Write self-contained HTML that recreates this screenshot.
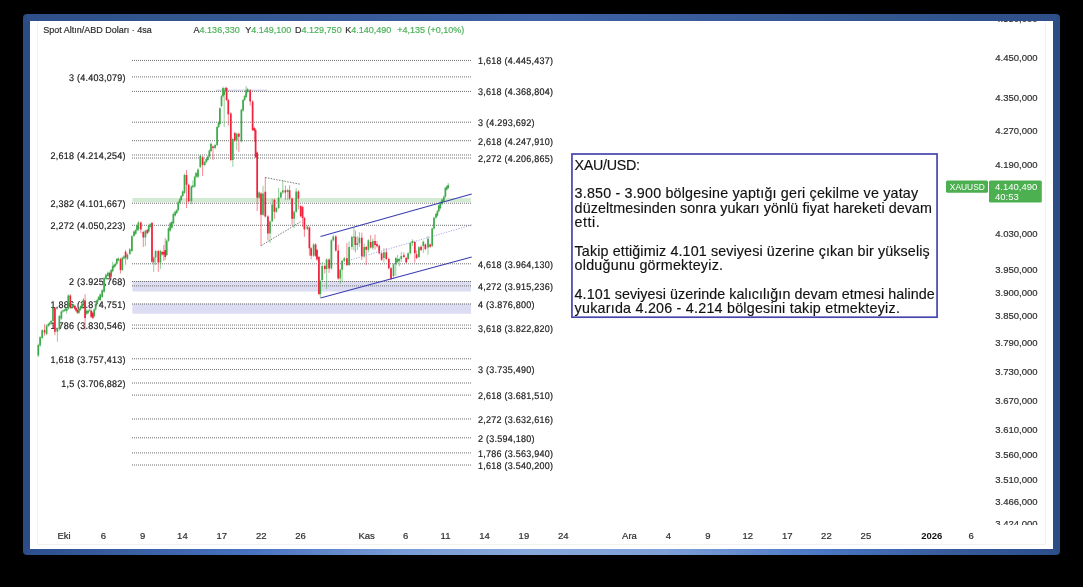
<!DOCTYPE html>
<html><head><meta charset="utf-8"><title>XAUUSD</title>
<style>
html,body{margin:0;padding:0;background:#000;width:1083px;height:587px;overflow:hidden}
svg{position:absolute;left:0;top:0;display:block;will-change:transform}
svg text{font-family:"Liberation Sans", sans-serif}
</style></head><body>
<svg width="1083" height="587" viewBox="0 0 1083 587">
<defs>
<linearGradient id="gb" x1="0" x2="1" y1="0" y2="0">
 <stop offset="0" stop-color="#2d4f8c"/>
 <stop offset="0.22" stop-color="#4873c0"/>
 <stop offset="0.36" stop-color="#789bd5"/>
 <stop offset="0.49" stop-color="#89a8dc"/>
 <stop offset="0.62" stop-color="#7fa0d8"/>
 <stop offset="0.77" stop-color="#4a78c4"/>
 <stop offset="0.90" stop-color="#375b9b"/>
 <stop offset="1" stop-color="#2d4f8c"/>
</linearGradient>
<linearGradient id="gt" x1="0" x2="1" y1="0" y2="0">
 <stop offset="0" stop-color="#2e4f8a"/>
 <stop offset="0.15" stop-color="#33568f"/>
 <stop offset="0.5" stop-color="#3d62a6"/>
 <stop offset="0.82" stop-color="#33568f"/>
 <stop offset="1" stop-color="#2e4f8a"/>
</linearGradient>
<clipPath id="pane"><rect x="37" y="21" width="1009" height="504"/></clipPath>
</defs>
<rect x="23" y="14" width="1037" height="541" rx="4" ry="4" fill="#2c4c86"/>
<rect x="27" y="14" width="1029" height="7" fill="url(#gt)"/>
<rect x="27" y="548.5" width="1029" height="6.5" fill="url(#gb)"/>
<rect x="30" y="21" width="1023" height="528" fill="#fff"/>
<path d="M37.5 21V544.5H1045.5V21" fill="none" stroke="#f2f2f2" stroke-width="1"/>
<text x="43.2" y="33.3" font-size="9" fill="#2f2f2f" stroke="#2f2f2f" stroke-width="0.2">Spot Altın/ABD Doları · 4sa</text>
<text x="193.6" y="33.3" font-size="9" fill="#2f2f2f" stroke="#2f2f2f" stroke-width="0.2">A<tspan fill="#4db35a" stroke="#4db35a">4.136,330</tspan></text>
<text x="245.2" y="33.3" font-size="9" fill="#2f2f2f" stroke="#2f2f2f" stroke-width="0.2">Y<tspan fill="#4db35a" stroke="#4db35a">4.149,100</tspan></text>
<text x="295.1" y="33.3" font-size="9" fill="#2f2f2f" stroke="#2f2f2f" stroke-width="0.2">D<tspan fill="#4db35a" stroke="#4db35a">4.129,750</tspan></text>
<text x="345.2" y="33.3" font-size="9" fill="#2f2f2f" stroke="#2f2f2f" stroke-width="0.2">K<tspan fill="#4db35a" stroke="#4db35a">4.140,490</tspan></text>
<text x="397.2" y="33.3" font-size="9" fill="#4db35a" stroke="#4db35a" stroke-width="0.2">+4,135 (+0,10%)</text>
<rect x="132.4" y="198" width="338.6" height="4.2" fill="#d3ebd3"/>
<rect x="132.4" y="281" width="338.6" height="10.5" fill="#dcdcf2"/>
<rect x="132.4" y="303.6" width="338.6" height="10.1" fill="#dcdcf2"/>
<rect x="216" y="89.6" width="51" height="1.6" fill="#d8d8f0"/>
<path d="M132 60.4H471M132 76.9H471M132 91.4H471M132 122.2H471M132 140.7H471M132 155.0H471M132 158.0H471M132 203.2H471M132 225.3H471M132 263.8H471M132 281.5H471M132 285.9H471M132 304.0H471M132 325.1H471M132 328.3H471M132 358.8H471M132 369.6H471M132 383.0H471M132 395.1H471M132 419.0H471M132 437.8H471M132 452.9H471M132 465.0H471" stroke="#6e6e6e" stroke-width="1" stroke-dasharray="1 1" fill="none"/>
<path d="M265.2 177.5L300.6 184.3M261.2 245.6L300.6 221.8" stroke="#6a6a6a" stroke-width="0.9" stroke-dasharray="1.5 1.3" fill="none"/>
<text transform="translate(125.6 80.7) scale(0.9375 1)" font-size="9.6" fill="#222" stroke="#222" stroke-width="0.2" text-rendering="geometricPrecision" text-anchor="end" textLength="60.28" lengthAdjust="spacing">3 (4.403,079)</text>
<text transform="translate(125.6 158.8) scale(0.9375 1)" font-size="9.6" fill="#222" stroke="#222" stroke-width="0.2" text-rendering="geometricPrecision" text-anchor="end" textLength="80.01" lengthAdjust="spacing">2,618 (4.214,254)</text>
<text transform="translate(125.6 207) scale(0.9375 1)" font-size="9.6" fill="#222" stroke="#222" stroke-width="0.2" text-rendering="geometricPrecision" text-anchor="end" textLength="80.01" lengthAdjust="spacing">2,382 (4.101,667)</text>
<text transform="translate(125.6 229.1) scale(0.9375 1)" font-size="9.6" fill="#222" stroke="#222" stroke-width="0.2" text-rendering="geometricPrecision" text-anchor="end" textLength="80.01" lengthAdjust="spacing">2,272 (4.050,223)</text>
<text transform="translate(125.6 285.3) scale(0.9375 1)" font-size="9.6" fill="#222" stroke="#222" stroke-width="0.2" text-rendering="geometricPrecision" text-anchor="end" textLength="60.28" lengthAdjust="spacing">2 (3.925,768)</text>
<text transform="translate(125.6 307.8) scale(0.9375 1)" font-size="9.6" fill="#222" stroke="#222" stroke-width="0.2" text-rendering="geometricPrecision" text-anchor="end" textLength="80.01" lengthAdjust="spacing">1,886 (3.874,751)</text>
<text transform="translate(125.6 328.9) scale(0.9375 1)" font-size="9.6" fill="#222" stroke="#222" stroke-width="0.2" text-rendering="geometricPrecision" text-anchor="end" textLength="80.01" lengthAdjust="spacing">1,786 (3.830,546)</text>
<text transform="translate(125.6 362.6) scale(0.9375 1)" font-size="9.6" fill="#222" stroke="#222" stroke-width="0.2" text-rendering="geometricPrecision" text-anchor="end" textLength="80.01" lengthAdjust="spacing">1,618 (3.757,413)</text>
<text transform="translate(125.6 386.8) scale(0.9375 1)" font-size="9.6" fill="#222" stroke="#222" stroke-width="0.2" text-rendering="geometricPrecision" text-anchor="end" textLength="68.73" lengthAdjust="spacing">1,5 (3.706,882)</text>
<text transform="translate(478.1 64.2) scale(0.9375 1)" font-size="9.6" fill="#222" stroke="#222" stroke-width="0.2" text-rendering="geometricPrecision" textLength="80.01" lengthAdjust="spacing">1,618 (4.445,437)</text>
<text transform="translate(478.1 95.2) scale(0.9375 1)" font-size="9.6" fill="#222" stroke="#222" stroke-width="0.2" text-rendering="geometricPrecision" textLength="80.01" lengthAdjust="spacing">3,618 (4.368,804)</text>
<text transform="translate(478.1 126) scale(0.9375 1)" font-size="9.6" fill="#222" stroke="#222" stroke-width="0.2" text-rendering="geometricPrecision" textLength="60.28" lengthAdjust="spacing">3 (4.293,692)</text>
<text transform="translate(478.1 144.5) scale(0.9375 1)" font-size="9.6" fill="#222" stroke="#222" stroke-width="0.2" text-rendering="geometricPrecision" textLength="80.01" lengthAdjust="spacing">2,618 (4.247,910)</text>
<text transform="translate(478.1 161.8) scale(0.9375 1)" font-size="9.6" fill="#222" stroke="#222" stroke-width="0.2" text-rendering="geometricPrecision" textLength="80.01" lengthAdjust="spacing">2,272 (4.206,865)</text>
<text transform="translate(478.1 267.6) scale(0.9375 1)" font-size="9.6" fill="#222" stroke="#222" stroke-width="0.2" text-rendering="geometricPrecision" textLength="80.01" lengthAdjust="spacing">4,618 (3.964,130)</text>
<text transform="translate(478.1 289.7) scale(0.9375 1)" font-size="9.6" fill="#222" stroke="#222" stroke-width="0.2" text-rendering="geometricPrecision" textLength="80.01" lengthAdjust="spacing">4,272 (3.915,236)</text>
<text transform="translate(478.1 307.8) scale(0.9375 1)" font-size="9.6" fill="#222" stroke="#222" stroke-width="0.2" text-rendering="geometricPrecision" textLength="60.28" lengthAdjust="spacing">4 (3.876,800)</text>
<text transform="translate(478.1 332.1) scale(0.9375 1)" font-size="9.6" fill="#222" stroke="#222" stroke-width="0.2" text-rendering="geometricPrecision" textLength="80.01" lengthAdjust="spacing">3,618 (3.822,820)</text>
<text transform="translate(478.1 373.4) scale(0.9375 1)" font-size="9.6" fill="#222" stroke="#222" stroke-width="0.2" text-rendering="geometricPrecision" textLength="60.28" lengthAdjust="spacing">3 (3.735,490)</text>
<text transform="translate(478.1 398.9) scale(0.9375 1)" font-size="9.6" fill="#222" stroke="#222" stroke-width="0.2" text-rendering="geometricPrecision" textLength="80.01" lengthAdjust="spacing">2,618 (3.681,510)</text>
<text transform="translate(478.1 422.8) scale(0.9375 1)" font-size="9.6" fill="#222" stroke="#222" stroke-width="0.2" text-rendering="geometricPrecision" textLength="80.01" lengthAdjust="spacing">2,272 (3.632,616)</text>
<text transform="translate(478.1 441.6) scale(0.9375 1)" font-size="9.6" fill="#222" stroke="#222" stroke-width="0.2" text-rendering="geometricPrecision" textLength="60.28" lengthAdjust="spacing">2 (3.594,180)</text>
<text transform="translate(478.1 456.7) scale(0.9375 1)" font-size="9.6" fill="#222" stroke="#222" stroke-width="0.2" text-rendering="geometricPrecision" textLength="80.01" lengthAdjust="spacing">1,786 (3.563,940)</text>
<text transform="translate(478.1 468.8) scale(0.9375 1)" font-size="9.6" fill="#222" stroke="#222" stroke-width="0.2" text-rendering="geometricPrecision" textLength="80.01" lengthAdjust="spacing">1,618 (3.540,200)</text>
<path d="M38.3 343.7V357M40.1 336V346.8M42.2 329.1V339.2M46.6 324.3V335.2M48.4 322.8V327M49.7 321.6V325.8M51.1 319.8V324M53 306.8V322.2M57.4 328.1V341.8M59.4 314.8V330.5M61.4 310.3V319.8M63 309.4V312.8M64.4 308.5V311.9M65.6 307.8V311.2M66.7 307.8V313.8M68.3 294.2V309.9M72.3 303.4V308.8M73.6 303.8V307.8M78.9 308.5V314M80.5 305.4V310.9M82 302.3V308.8M83.5 298.2V304.7M86.7 309.5V315M88.1 309.5V313.9M89.6 308.5V311.9M94.2 308.3V317.5M95.6 302.8V310.7M97.2 298.8V305.2M98.6 296V301.2M100.2 293.3V301.2M102.2 289.1V298.2M104.1 276.8V292.9M106 273.5V280.2M107.9 271.5V277.2M111.2 268.8V278M112.7 261.8V272.5M114 264V268.4M115.3 262.6V267.1M116.8 257.8V265M118.3 257.2V261.6M122.3 256.5V271.2M124 255.2V259.6M127.4 253.4V260M129.8 248.1V255.2M131.9 235V252.2M134 230.2V237.2M135.7 229V235M137 224.3V231.4M138.4 221.3V230.8M145.4 229.6V246.3M148.7 224.8V232.6M150.1 223.1V227.9M153.7 256.4V271.9M155.6 249.8V265M160.4 249.8V269M166.7 239.5V256.2M168.5 227.2V241.9M170.2 222.1V231.8M171.8 220.7V228.9M173.4 212.7V224.5M175.2 210.5V216.6M176.7 209.1V214.2M178.2 201.1V211.5M179.7 198.2V204.2M181.2 194.8V201.2M182.7 190.3V197.2M184.5 173.8V193.9M191.4 185.4V204.3M192.9 180.4V188.2M194.7 175.6V187.8M196.1 171.8V178M198 168.2V178M200.3 154.8V168.2M204.7 160.8V166.2M206.3 157.8V163.2M207.8 155.3V161.2M209.4 149.2V157.7M211 142.5V152.2M215.1 143.8V149.2M217.1 125.8V146.2M218.6 121.3V128.2M219.9 107.1V125.2M221.5 95.1V107.2M223 86.5V97.5M224.2 89.5V127M225.4 86.8V92.2M232.8 137.8V166.8M236.7 132.6V150M241.4 108.6V142.5M243.1 98.8V111.7M244.6 95.1V101.2M246.1 86.2V98.2M247.6 87.8V93.2M259.1 191.4V198.9M263 185.8V215.9M270 220.3V243M272.2 198.6V222.4M276.4 206.8V212.9M278.6 187.9V209.2M280.9 191.4V198.6M282.8 180V193.8M287.7 188.8V200M294.1 210.5V228.3M296.2 187.9V212.9M307.4 225.3V230.2M313.6 243.2V256.9M320.3 279.8V297.8M322.2 262V281.2M326.6 258.3V288.9M331.4 239.1V269.6M333.3 234.6V241.5M340.2 268.5V284M342.1 259.6V282M344.3 257V262M349.1 241.2V266.2M351.9 235.7V249.7M353.9 227.1V250.5M357.4 236V250M359.4 232.2V247M364.2 243.5V257.7M368.4 239.1V252.5M372.8 238.5V250M383.9 248.1V262.6M393.5 263.3V279M395.8 256.8V276M397.6 255V263.2M399.3 257.7V266.4M401.3 251.9V262M408.1 252.1V260.1M410.3 241.8V254.5M412.4 239.2V246M418.9 246V258.2M423.3 240.5V253M428 236V254.7M432.2 227.4V247.2M434 216.6V229.8M436 212.9V219M437.4 210V216.7M438.8 204.2V212.4M440.3 201.3V209.5M442.1 198.4V205.2M443.8 195.5V202.2M445.4 186.8V197.9M446.8 185.4V190.7M448.2 183V189.2" stroke="#3eaa4b" stroke-width="1" opacity="0.55" fill="none"/>
<path d="M44.5 324.2V335.7M54.9 307V335.3M70.3 294.2V308.8M74.9 304.8V309.9M76.1 306.8V311.9M77.4 308.5V314M85.1 294.3V330M91.2 309.5V318M92.8 311.5V319.1M109.8 271.5V279.3M120.5 257.8V273.4M125.6 250V264.8M140.8 221.3V233.2M143.3 230.8V246.9M147.3 228.8V234.4M152 221.8V263M158.3 249.8V271.9M162.2 250.8V255.7M163.8 245V261M165.2 238V260M186.5 170V208M188.7 183.5V202.5M202.6 156V176M213 145.4V160M226.6 86.8V101.2M228.3 98.8V125.5M230.8 112.3V161.2M234.8 131.8V141.8M238.8 132.6V151.8M250.2 89.1V105.7M252.6 100.3V131.2M254.4 126.8V142M255.6 128.8V158.2M257.2 151.4V211M261 192.2V246M265.3 177V217.6M267.9 215.2V240.3M274.4 198.6V218.8M285.4 185.5V199.8M289.6 185.5V199.8M292.1 197.4V224.8M298.4 190.2V209.3M300.7 205V217.5M302.6 205.7V227M304.4 216.9V236.9M309.4 226.3V255.7M311.1 247V259.4M315.6 243.2V256.9M317 248.8V260.6M318.9 255.8V295.3M324.8 264.7V273.5M329.1 258.3V272.9M335.8 235.3V251.7M338.2 244.8V279.8M346.9 242.9V266.2M355.4 230.5V252.3M361.8 232.7V260M366.2 245.9V265M370.7 235.2V248.5M375 234.6V249.5M377 241V247.5M379.2 244.6V254.5M381.6 252.1V261M386.3 248.1V260.1M388.8 257.7V269.5M391 267.1V280.2M403.9 252.3V258.2M406.2 256.8V263.4M414.8 240.8V262.6M416.6 250.5V259.2M421.1 245.5V251.2M425.4 243.4V250.2M430.1 243.4V247.9" stroke="#f0223c" stroke-width="1" opacity="0.55" fill="none"/>
<path d="M37.45 344.9h1.7V355.6h-1.7zM39.25 337.2h1.7V345.6h-1.7zM41.35 330.3h1.7V338h-1.7zM45.75 325.5h1.7V334h-1.7zM47.55 324h1.7V325.8h-1.7zM48.85 322.8h1.7V324.6h-1.7zM50.25 321h1.7V322.8h-1.7zM52.15 308h1.7V321h-1.7zM56.55 329.3h1.7V331.7h-1.7zM58.55 316h1.7V329.3h-1.7zM60.55 311.5h1.7V318.6h-1.7zM62.15 310.6h1.7V311.6h-1.7zM63.55 309.7h1.7V310.7h-1.7zM64.75 309h1.7V310h-1.7zM65.85 309h1.7V311h-1.7zM67.45 295.4h1.7V308.7h-1.7zM71.45 304.6h1.7V307.6h-1.7zM72.75 305h1.7V306.6h-1.7zM78.05 309.7h1.7V312.8h-1.7zM79.65 306.6h1.7V309.7h-1.7zM81.15 303.5h1.7V307.6h-1.7zM82.65 299.4h1.7V303.5h-1.7zM85.85 310.7h1.7V313.8h-1.7zM87.25 310.7h1.7V312.7h-1.7zM88.75 309.7h1.7V310.7h-1.7zM93.35 309.5h1.7V316.3h-1.7zM94.75 304h1.7V309.5h-1.7zM96.35 300h1.7V304h-1.7zM97.75 297.2h1.7V300h-1.7zM99.35 294.5h1.7V300h-1.7zM101.35 290.3h1.7V297h-1.7zM103.25 278h1.7V291.7h-1.7zM105.15 274.7h1.7V279h-1.7zM107.05 272.7h1.7V276h-1.7zM110.35 270h1.7V276.8h-1.7zM111.85 265.9h1.7V271.3h-1.7zM113.15 265.2h1.7V267.2h-1.7zM114.45 263.8h1.7V265.9h-1.7zM115.95 259h1.7V263.8h-1.7zM117.45 258.4h1.7V260.4h-1.7zM121.45 257.7h1.7V270h-1.7zM123.15 256.4h1.7V258.4h-1.7zM126.55 254.6h1.7V258.8h-1.7zM128.95 249.3h1.7V254h-1.7zM131.05 236.2h1.7V251h-1.7zM133.15 231.4h1.7V236h-1.7zM134.85 230.2h1.7V233.8h-1.7zM136.15 225.5h1.7V230.2h-1.7zM137.55 222.5h1.7V229.6h-1.7zM144.55 230.8h1.7V237.4h-1.7zM147.85 226h1.7V231.4h-1.7zM149.25 224.3h1.7V226.7h-1.7zM152.85 257.6h1.7V262.4h-1.7zM154.75 251h1.7V257.6h-1.7zM159.55 251h1.7V262.5h-1.7zM165.85 240.7h1.7V255h-1.7zM167.65 228.4h1.7V240.7h-1.7zM169.35 223.3h1.7V230.6h-1.7zM170.95 221.9h1.7V227.7h-1.7zM172.55 213.9h1.7V223.3h-1.7zM174.35 211.7h1.7V215.4h-1.7zM175.85 210.3h1.7V213h-1.7zM177.35 202.3h1.7V210.3h-1.7zM178.85 199.4h1.7V203h-1.7zM180.35 196h1.7V200h-1.7zM181.85 191.5h1.7V196h-1.7zM183.65 175h1.7V192.7h-1.7zM190.55 186.6h1.7V201.3h-1.7zM192.05 185.5h1.7V187h-1.7zM193.85 176.8h1.7V186.6h-1.7zM195.25 173h1.7V176.8h-1.7zM197.15 169.4h1.7V176.8h-1.7zM199.45 156h1.7V167h-1.7zM203.85 162h1.7V165h-1.7zM205.45 159h1.7V162h-1.7zM206.95 156.5h1.7V160h-1.7zM208.55 150.4h1.7V156.5h-1.7zM210.15 143.7h1.7V151h-1.7zM214.25 145h1.7V148h-1.7zM216.25 127h1.7V145h-1.7zM217.75 122.5h1.7V127h-1.7zM219.05 108.3h1.7V124h-1.7zM220.65 96.3h1.7V106h-1.7zM222.15 88h1.7V96.3h-1.7zM223.35 91h1.7V95h-1.7zM224.55 88h1.7V91h-1.7zM231.95 139h1.7V160h-1.7zM235.85 133.8h1.7V140.6h-1.7zM240.55 109.8h1.7V141.3h-1.7zM242.25 100h1.7V110.5h-1.7zM243.75 96.3h1.7V100h-1.7zM245.25 90.3h1.7V97h-1.7zM246.75 89h1.7V92h-1.7zM258.25 192.6h1.7V197.7h-1.7zM262.15 193.4h1.7V214.7h-1.7zM269.15 221.5h1.7V233.5h-1.7zM271.35 204.5h1.7V221.2h-1.7zM275.55 208h1.7V211.7h-1.7zM277.75 197.4h1.7V208h-1.7zM280.05 192.6h1.7V197.4h-1.7zM281.95 190.2h1.7V192.6h-1.7zM286.85 190h1.7V192h-1.7zM293.25 211.7h1.7V218.8h-1.7zM295.35 191.4h1.7V211.7h-1.7zM306.55 226.5h1.7V229h-1.7zM312.75 244.4h1.7V255.7h-1.7zM319.45 281h1.7V294.1h-1.7zM321.35 265.9h1.7V280h-1.7zM325.75 259.5h1.7V269h-1.7zM330.55 240.3h1.7V268.4h-1.7zM332.45 236.5h1.7V240.3h-1.7zM339.35 269.7h1.7V278.6h-1.7zM341.25 260.8h1.7V269.7h-1.7zM343.45 258.2h1.7V260.8h-1.7zM348.25 247.1h1.7V265h-1.7zM351.05 236.9h1.7V247.1h-1.7zM353.05 236.5h1.7V237.5h-1.7zM356.55 242.9h1.7V245h-1.7zM358.55 237.8h1.7V242.9h-1.7zM363.35 247.1h1.7V256.5h-1.7zM367.55 240.3h1.7V249.7h-1.7zM371.95 241.1h1.7V247.7h-1.7zM383.05 252.3h1.7V258h-1.7zM392.65 264.5h1.7V276h-1.7zM394.95 258h1.7V264.5h-1.7zM396.75 258.9h1.7V262h-1.7zM398.45 258.9h1.7V260.8h-1.7zM400.45 256.1h1.7V258.9h-1.7zM407.25 253.3h1.7V258.9h-1.7zM409.45 243h1.7V253.3h-1.7zM411.55 241.1h1.7V243h-1.7zM418.05 247.2h1.7V257h-1.7zM422.45 241.7h1.7V246h-1.7zM427.15 238.8h1.7V247.5h-1.7zM431.35 228.6h1.7V246h-1.7zM433.15 217.8h1.7V228.6h-1.7zM435.15 214.1h1.7V217.8h-1.7zM436.55 211.2h1.7V215.5h-1.7zM437.95 205.4h1.7V211.2h-1.7zM439.45 202.5h1.7V208.3h-1.7zM441.25 199.6h1.7V204h-1.7zM442.95 196.7h1.7V201h-1.7zM444.55 188h1.7V196.7h-1.7zM445.95 186.6h1.7V189.5h-1.7zM447.35 185.1h1.7V188h-1.7z" fill="#3eaa4b"/>
<path d="M43.65 330.3h1.7V332.6h-1.7zM54.05 308h1.7V331.7h-1.7zM69.45 295.4h1.7V307.6h-1.7zM74.05 306h1.7V308.7h-1.7zM75.25 308h1.7V310.7h-1.7zM76.55 309.7h1.7V312.8h-1.7zM84.25 300.5h1.7V317.9h-1.7zM90.35 310.7h1.7V316.8h-1.7zM91.95 312.7h1.7V317.9h-1.7zM108.95 272.7h1.7V278.1h-1.7zM119.65 259h1.7V270h-1.7zM124.75 251.7h1.7V257.6h-1.7zM139.95 222.5h1.7V229.6h-1.7zM142.45 232h1.7V237.4h-1.7zM146.45 230h1.7V233.2h-1.7zM151.15 223h1.7V261.8h-1.7zM157.45 251h1.7V262.5h-1.7zM161.35 252h1.7V254.5h-1.7zM162.95 252h1.7V254.5h-1.7zM164.35 250h1.7V257h-1.7zM185.65 175h1.7V184.7h-1.7zM187.85 184.7h1.7V201.3h-1.7zM201.75 157.2h1.7V165h-1.7zM212.15 146.6h1.7V148h-1.7zM225.75 88h1.7V100h-1.7zM227.45 100h1.7V114.3h-1.7zM229.95 113.5h1.7V160h-1.7zM233.95 133h1.7V140.6h-1.7zM237.95 133.8h1.7V136.8h-1.7zM249.35 90.3h1.7V101.5h-1.7zM251.75 101.5h1.7V130h-1.7zM253.55 128h1.7V131h-1.7zM254.75 130h1.7V157h-1.7zM256.35 152.6h1.7V197.7h-1.7zM260.15 193.4h1.7V214.7h-1.7zM264.45 191.7h1.7V216.4h-1.7zM267.05 216.4h1.7V233.5h-1.7zM273.55 199.8h1.7V211.7h-1.7zM284.55 190.2h1.7V192.6h-1.7zM288.75 190.2h1.7V198.6h-1.7zM291.25 198.6h1.7V218.8h-1.7zM297.55 191.4h1.7V198.6h-1.7zM299.85 206h1.7V216.3h-1.7zM301.75 206.9h1.7V218.1h-1.7zM303.55 218.1h1.7V229.4h-1.7zM308.55 227.5h1.7V248.2h-1.7zM310.25 248.2h1.7V255.7h-1.7zM314.75 244.4h1.7V255.7h-1.7zM316.15 250h1.7V259.4h-1.7zM318.05 257h1.7V294.1h-1.7zM323.95 265.9h1.7V269h-1.7zM328.25 259.5h1.7V268.4h-1.7zM334.95 236.5h1.7V250.5h-1.7zM337.35 250.5h1.7V278.6h-1.7zM346.05 258.2h1.7V265h-1.7zM354.55 236.9h1.7V245h-1.7zM360.95 237.8h1.7V256.5h-1.7zM365.35 247.1h1.7V249.7h-1.7zM369.85 242h1.7V247.5h-1.7zM374.15 241.1h1.7V244.9h-1.7zM376.15 244h1.7V246.3h-1.7zM378.35 245.8h1.7V253.3h-1.7zM380.75 253.3h1.7V259.8h-1.7zM385.45 252.3h1.7V258.9h-1.7zM387.95 258.9h1.7V268.3h-1.7zM390.15 268.3h1.7V279h-1.7zM403.05 255.2h1.7V257h-1.7zM405.35 258h1.7V262.2h-1.7zM413.95 242h1.7V253.3h-1.7zM415.75 254.2h1.7V258h-1.7zM420.25 246.7h1.7V250h-1.7zM424.55 244.6h1.7V249h-1.7zM429.25 244.6h1.7V246.7h-1.7z" fill="#f0223c"/>
<path d="M320.5 236.5L471.7 194.1M320.5 298L471.7 256.9" stroke="#3b3db0" stroke-width="1.05" fill="none"/>
<path d="M351 259.8L471.7 225" stroke="#9c9ce0" stroke-width="0.9" stroke-dasharray="1.2 1.4" fill="none"/>
<g clip-path="url(#pane)">
<text x="1037.5" y="21.9" font-size="9.5" fill="#2f2f2f" stroke="#2f2f2f" stroke-width="0.2" text-anchor="end">4.550,000</text>
<text x="1037.5" y="61.4" font-size="9.5" fill="#2f2f2f" stroke="#2f2f2f" stroke-width="0.2" text-anchor="end">4.450,000</text>
<text x="1037.5" y="101.2" font-size="9.5" fill="#2f2f2f" stroke="#2f2f2f" stroke-width="0.2" text-anchor="end">4.350,000</text>
<text x="1037.5" y="134.4" font-size="9.5" fill="#2f2f2f" stroke="#2f2f2f" stroke-width="0.2" text-anchor="end">4.270,000</text>
<text x="1037.5" y="168.4" font-size="9.5" fill="#2f2f2f" stroke="#2f2f2f" stroke-width="0.2" text-anchor="end">4.190,000</text>
<text x="1037.5" y="237.4" font-size="9.5" fill="#2f2f2f" stroke="#2f2f2f" stroke-width="0.2" text-anchor="end">4.030,000</text>
<text x="1037.5" y="272.8" font-size="9.5" fill="#2f2f2f" stroke="#2f2f2f" stroke-width="0.2" text-anchor="end">3.950,000</text>
<text x="1037.5" y="295.9" font-size="9.5" fill="#2f2f2f" stroke="#2f2f2f" stroke-width="0.2" text-anchor="end">3.900,000</text>
<text x="1037.5" y="318.8" font-size="9.5" fill="#2f2f2f" stroke="#2f2f2f" stroke-width="0.2" text-anchor="end">3.850,000</text>
<text x="1037.5" y="346.4" font-size="9.5" fill="#2f2f2f" stroke="#2f2f2f" stroke-width="0.2" text-anchor="end">3.790,000</text>
<text x="1037.5" y="375.1" font-size="9.5" fill="#2f2f2f" stroke="#2f2f2f" stroke-width="0.2" text-anchor="end">3.730,000</text>
<text x="1037.5" y="403.7" font-size="9.5" fill="#2f2f2f" stroke="#2f2f2f" stroke-width="0.2" text-anchor="end">3.670,000</text>
<text x="1037.5" y="432.9" font-size="9.5" fill="#2f2f2f" stroke="#2f2f2f" stroke-width="0.2" text-anchor="end">3.610,000</text>
<text x="1037.5" y="457.9" font-size="9.5" fill="#2f2f2f" stroke="#2f2f2f" stroke-width="0.2" text-anchor="end">3.560,000</text>
<text x="1037.5" y="482.7" font-size="9.5" fill="#2f2f2f" stroke="#2f2f2f" stroke-width="0.2" text-anchor="end">3.510,000</text>
<text x="1037.5" y="505.2" font-size="9.5" fill="#2f2f2f" stroke="#2f2f2f" stroke-width="0.2" text-anchor="end">3.466,000</text>
<text x="1037.5" y="526.9" font-size="9.5" fill="#2f2f2f" stroke="#2f2f2f" stroke-width="0.2" text-anchor="end">3.424,000</text>
</g>
<rect x="946" y="180.5" width="42" height="12.3" rx="1.5" fill="#4caf50"/>
<rect x="989" y="180.5" width="52.8" height="22" rx="1.5" fill="#4caf50"/>
<text x="949.8" y="190" font-size="9" fill="#fff" textLength="35" lengthAdjust="spacingAndGlyphs">XAUUSD</text>
<text x="995" y="190" font-size="9.5" fill="#fff">4.140,490</text>
<text x="995" y="199.6" font-size="9.5" fill="#fff">40:53</text>
<text x="64.1" y="539.2" font-size="9.5" fill="#2f2f2f" stroke="#2f2f2f" stroke-width="0.2" text-anchor="middle">Eki</text>
<text x="103.4" y="539.2" font-size="9.5" fill="#2f2f2f" stroke="#2f2f2f" stroke-width="0.2" text-anchor="middle">6</text>
<text x="142.7" y="539.2" font-size="9.5" fill="#2f2f2f" stroke="#2f2f2f" stroke-width="0.2" text-anchor="middle">9</text>
<text x="182.4" y="539.2" font-size="9.5" fill="#2f2f2f" stroke="#2f2f2f" stroke-width="0.2" text-anchor="middle">14</text>
<text x="221.7" y="539.2" font-size="9.5" fill="#2f2f2f" stroke="#2f2f2f" stroke-width="0.2" text-anchor="middle">17</text>
<text x="261.3" y="539.2" font-size="9.5" fill="#2f2f2f" stroke="#2f2f2f" stroke-width="0.2" text-anchor="middle">22</text>
<text x="300.6" y="539.2" font-size="9.5" fill="#2f2f2f" stroke="#2f2f2f" stroke-width="0.2" text-anchor="middle">26</text>
<text x="366.6" y="539.2" font-size="9.5" fill="#2f2f2f" stroke="#2f2f2f" stroke-width="0.2" text-anchor="middle">Kas</text>
<text x="405.6" y="539.2" font-size="9.5" fill="#2f2f2f" stroke="#2f2f2f" stroke-width="0.2" text-anchor="middle">6</text>
<text x="445.5" y="539.2" font-size="9.5" fill="#2f2f2f" stroke="#2f2f2f" stroke-width="0.2" text-anchor="middle">11</text>
<text x="484.6" y="539.2" font-size="9.5" fill="#2f2f2f" stroke="#2f2f2f" stroke-width="0.2" text-anchor="middle">14</text>
<text x="523.9" y="539.2" font-size="9.5" fill="#2f2f2f" stroke="#2f2f2f" stroke-width="0.2" text-anchor="middle">19</text>
<text x="563.2" y="539.2" font-size="9.5" fill="#2f2f2f" stroke="#2f2f2f" stroke-width="0.2" text-anchor="middle">24</text>
<text x="629.5" y="539.2" font-size="9.5" fill="#2f2f2f" stroke="#2f2f2f" stroke-width="0.2" text-anchor="middle">Ara</text>
<text x="668.3" y="539.2" font-size="9.5" fill="#2f2f2f" stroke="#2f2f2f" stroke-width="0.2" text-anchor="middle">4</text>
<text x="707.8" y="539.2" font-size="9.5" fill="#2f2f2f" stroke="#2f2f2f" stroke-width="0.2" text-anchor="middle">9</text>
<text x="747.7" y="539.2" font-size="9.5" fill="#2f2f2f" stroke="#2f2f2f" stroke-width="0.2" text-anchor="middle">12</text>
<text x="787.3" y="539.2" font-size="9.5" fill="#2f2f2f" stroke="#2f2f2f" stroke-width="0.2" text-anchor="middle">17</text>
<text x="826.4" y="539.2" font-size="9.5" fill="#2f2f2f" stroke="#2f2f2f" stroke-width="0.2" text-anchor="middle">22</text>
<text x="865.9" y="539.2" font-size="9.5" fill="#2f2f2f" stroke="#2f2f2f" stroke-width="0.2" text-anchor="middle">25</text>
<text x="971.2" y="539.2" font-size="9.5" fill="#2f2f2f" stroke="#2f2f2f" stroke-width="0.2" text-anchor="middle">6</text>
<text x="931.7" y="539.2" font-size="9.5" font-weight="bold" fill="#111" text-anchor="middle">2026</text>
<rect x="571.95" y="154" width="365.1" height="163.2" fill="#fff" stroke="#4545b0" stroke-width="1.7"/>
<text x="574.6" y="169.65" font-size="14.3" fill="#111" stroke="#111" stroke-width="0.15" textLength="65.3" lengthAdjust="spacing">XAU/USD:</text>
<text x="574.6" y="198.31" font-size="14.3" fill="#111" stroke="#111" stroke-width="0.15" textLength="343.5" lengthAdjust="spacing">3.850 - 3.900 bölgesine yaptığı geri çekilme ve yatay</text>
<text x="574.6" y="212.64" font-size="14.3" fill="#111" stroke="#111" stroke-width="0.15" textLength="357.4" lengthAdjust="spacing">düzeltmesinden sonra yukarı yönlü fiyat hareketi devam</text>
<text x="574.6" y="226.97" font-size="14.3" fill="#111" stroke="#111" stroke-width="0.15" textLength="25.2" lengthAdjust="spacing">etti.</text>
<text x="574.6" y="255.63" font-size="14.3" fill="#111" stroke="#111" stroke-width="0.15" textLength="355.1" lengthAdjust="spacing">Takip ettiğimiz 4.101 seviyesi üzerine çıkan bir yükseliş</text>
<text x="574.6" y="269.96" font-size="14.3" fill="#111" stroke="#111" stroke-width="0.15" textLength="148.4" lengthAdjust="spacing">olduğunu görmekteyiz.</text>
<text x="574.6" y="298.62" font-size="14.3" fill="#111" stroke="#111" stroke-width="0.15" textLength="360" lengthAdjust="spacing">4.101 seviyesi üzerinde kalıcılığın devam etmesi halinde</text>
<text x="574.6" y="312.95" font-size="14.3" fill="#111" stroke="#111" stroke-width="0.15" textLength="325.3" lengthAdjust="spacing">yukarıda 4.206 - 4.214 bölgesini takip etmekteyiz.</text>
</svg>
</body></html>
